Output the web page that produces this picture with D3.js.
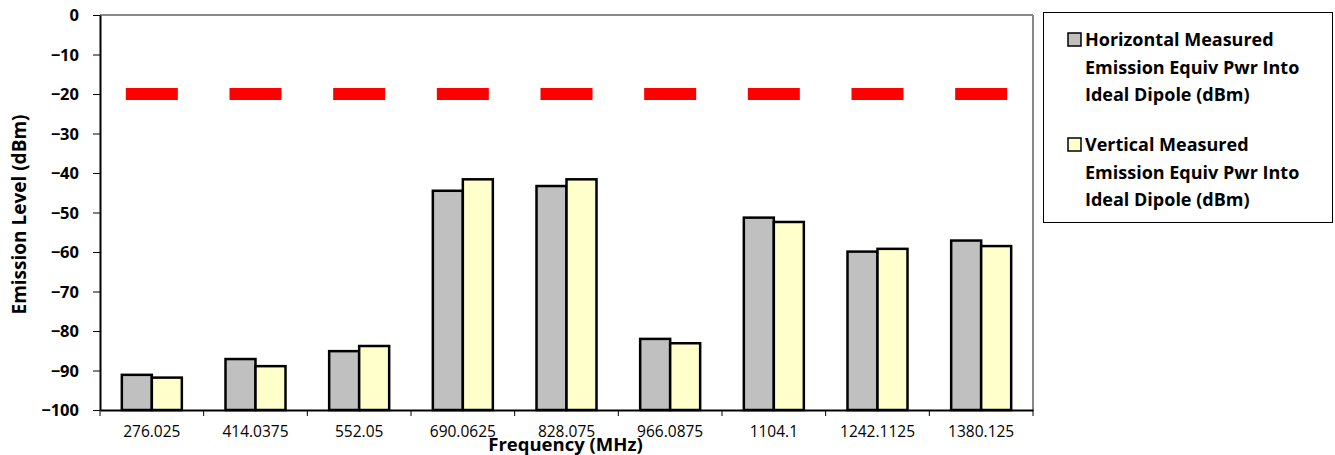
<!DOCTYPE html>
<html><head><meta charset="utf-8">
<script src="https://cdn.jsdelivr.net/npm/d3@7"></script>
<style>body{margin:0;background:#fff}svg{display:block}text{font-family:"Open Sans",sans-serif}</style>
</head><body><svg id="c" width="1335" height="455"></svg>
<script>
const categories = ["276.025","414.0375","552.05","690.0625","828.075","966.0875","1104.1","1242.1125","1380.125"];
const horizontal = [-91.1,-87.1,-85.1,-44.5,-43.3,-82.0,-51.3,-59.9,-57.1];
const vertical = [-91.8,-88.9,-83.8,-41.6,-41.6,-83.1,-52.4,-59.2,-58.5];
const limit = [-20,-20,-20,-20,-20,-20,-20,-20,-20];
const yTicks = [0,-10,-20,-30,-40,-50,-60,-70,-80,-90,-100];
const seriesNames = ["Horizontal Measured\nEmission Equiv Pwr Into\nIdeal Dipole (dBm)","Vertical Measured\nEmission Equiv Pwr Into\nIdeal Dipole (dBm)"];
const colors = ["#c0c0c0","#ffffcc"];

const svg = d3.select("#c");
const L=100,R=1033,T=15,B=410;
const x = d3.scaleBand().domain(categories).range([L,R]);
const y = d3.scaleLinear().domain([-100,0]).range([B,T]);
const bw = 30;

svg.append("line").attr("x1",L).attr("x2",R).attr("y1",T).attr("y2",T).attr("stroke","#888").attr("stroke-width",2);
svg.append("line").attr("x1",R).attr("x2",R).attr("y1",T).attr("y2",B).attr("stroke","#888").attr("stroke-width",2);

[horizontal,vertical].forEach((vals,si)=>{
  svg.append("g").selectAll("rect").data(vals).join("rect")
    .attr("x",(d,i)=>x(categories[i])+x.bandwidth()/2-bw+si*bw)
    .attr("y",d=>y(d)).attr("width",bw).attr("height",d=>y(-100)-y(d))
    .attr("fill",colors[si]).attr("stroke","#000").attr("stroke-width",2.5);
});

svg.append("g").selectAll("rect").data(limit).join("rect")
  .attr("x",(d,i)=>x(categories[i])+x.bandwidth()/2-26).attr("y",d=>y(d)-6)
  .attr("width",52).attr("height",12).attr("fill","#ff0000");

const ya = svg.append("g").attr("transform",`translate(${L},0)`)
  .call(d3.axisLeft(y).tickValues(yTicks).tickSize(7).tickSizeOuter(0).tickPadding(14).tickFormat(d3.format("d")));
ya.select(".domain").attr("stroke","#000").attr("stroke-width",2);
ya.selectAll(".tick line").attr("stroke","#000").attr("stroke-width",1);
ya.selectAll("text").attr("font-size",16.5).attr("font-weight","bold").attr("fill","#000").attr("dy","0.35em");

const xa = svg.append("g").attr("transform",`translate(0,${B})`)
  .call(d3.axisBottom(x).tickSize(0).tickPadding(16));
xa.select(".domain").attr("stroke","#000").attr("stroke-width",2);
xa.selectAll("text").attr("font-size",15.5).attr("fill","#000");
const bounds = categories.map(c=>x(c)).concat([R]);
svg.append("g").selectAll("line").data(bounds).join("line")
  .attr("x1",d=>d).attr("x2",d=>d).attr("y1",B).attr("y2",B+6).attr("stroke","#000");

svg.append("text").attr("transform",`translate(26,${(T+B)/2+2}) rotate(-90)`).attr("text-anchor","middle")
  .attr("font-size",19).attr("font-weight","bold").text("Emission Level (dBm)");
svg.append("text").attr("x",(L+R)/2-1).attr("y",451).attr("text-anchor","middle")
  .attr("font-size",18.5).attr("font-weight","bold").text("Frequency (MHz)");

svg.append("rect").attr("x",1043.5).attr("y",12.5).attr("width",289).attr("height",210).attr("fill","#fff").attr("stroke","#000").attr("stroke-width",1);
seriesNames.forEach((n,si)=>{
  const y0 = 46 + si*105;
  svg.append("rect").attr("x",1068).attr("y",y0-13).attr("width",13).attr("height",13)
    .attr("fill",colors[si]).attr("stroke","#000").attr("stroke-width",1.5);
  const t = svg.append("text").attr("x",1085).attr("y",y0).attr("font-size",18).attr("font-weight","bold");
  n.split("\n").forEach((line,li)=>t.append("tspan").attr("x",1085).attr("y",y0+li*27.5).text(line));
});
</script></body></html>
